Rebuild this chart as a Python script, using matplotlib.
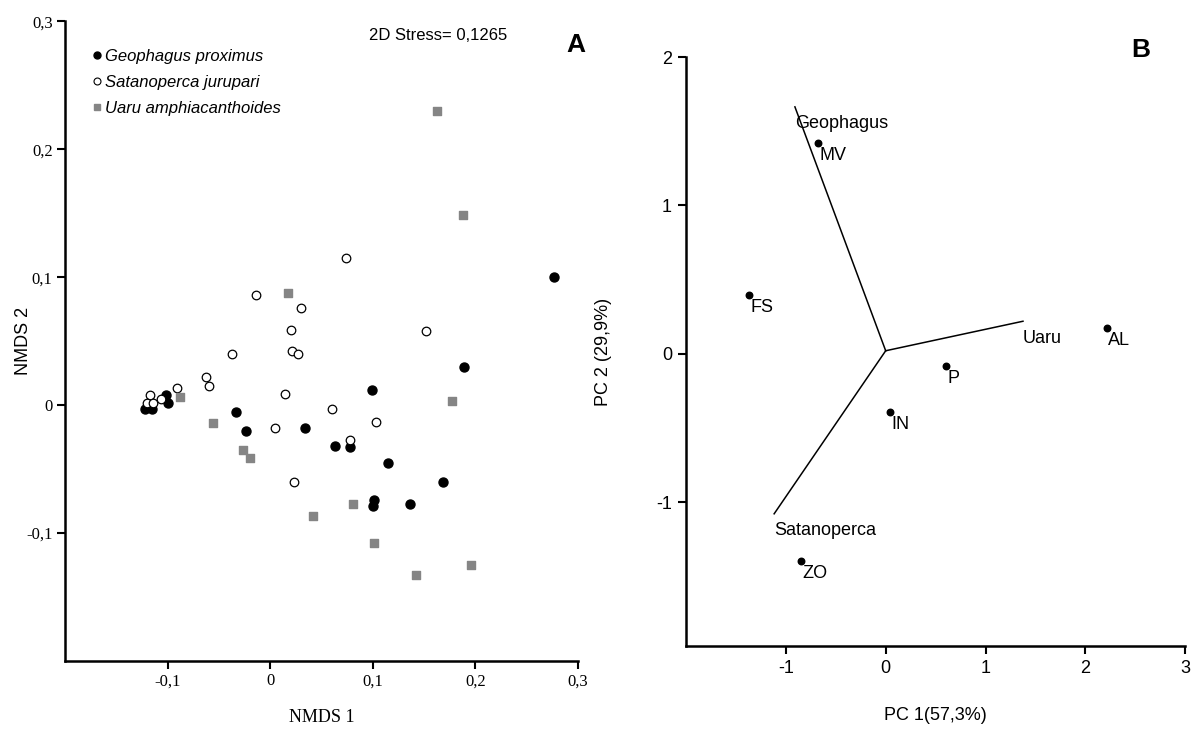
import matplotlib
matplotlib.use("Agg")
import matplotlib.pyplot as plt
from matplotlib.lines import Line2D

plt.rcParams["axes.unicode_minus"] = False
SANS = "Liberation Sans"
SERIF = "Liberation Serif"

# ---------------- dados painel A (NMDS) ----------------
geo_x = [0.277, 0.189, 0.099, -0.122, -0.115, -0.102, -0.100, -0.033, -0.024, 0.034,
         0.063, 0.078, 0.115, 0.168, 0.101, 0.100, 0.136]
geo_y = [0.100, 0.030, 0.012, -0.003, -0.003, 0.008, 0.002, -0.005, -0.020, -0.018,
         -0.032, -0.033, -0.045, -0.060, -0.074, -0.079, -0.077]

sat_x = [0.074, -0.014, 0.030, 0.020, 0.152, -0.037, 0.021, 0.027, -0.063, -0.060, -0.091,
         0.014, -0.117, -0.106, -0.120, -0.114, 0.060, 0.103, 0.005, 0.078, 0.023]
sat_y = [0.115, 0.086, 0.076, 0.059, 0.058, 0.040, 0.042, 0.040, 0.022, 0.015, 0.013,
         0.009, 0.008, 0.005, 0.002, 0.002, -0.003, -0.013, -0.018, -0.027, -0.060]

uaru_x = [0.163, 0.188, 0.017, -0.088, 0.177, -0.056, -0.027, -0.020, 0.081, 0.042,
          0.101, 0.142, 0.196]
uaru_y = [0.230, 0.149, 0.088, 0.006, 0.003, -0.014, -0.035, -0.041, -0.077, -0.087,
          -0.108, -0.133, -0.125]

nmds_ticks = [-0.1, 0, 0.1, 0.2, 0.3]
nmds_ticklabels = ["-0,1", "0", "0,1", "0,2", "0,3"]

# ---------------- dados painel B (PCA) ----------------
locais = ["MV", "FS", "AL", "P", "IN", "ZO"]
pc1 = [-0.674, -1.371, 2.216, 0.606, 0.042, -0.848]
pc2 = [1.423, 0.395, 0.176, -0.082, -0.393, -1.395]

especies = ["Geophagus", "Uaru", "Satanoperca"]
vet_x = [-0.909, 1.375, -1.117]
vet_y = [1.664, 0.219, -1.079]
origem = (0.0, 0.02)

pc_ticks = [-1, 0, 1, 2, 3]
pc_yticks = [-1, 0, 1, 2]

fig = plt.figure(figsize=(11.93, 7.31), dpi=100)

# ======== Painel A ========
ax1 = fig.add_axes([0.0545, 0.0958, 0.430, 0.875])
ax1.scatter(geo_x, geo_y, s=42, c="black", marker="o", zorder=3)
ax1.scatter(sat_x, sat_y, s=38, facecolors="white", edgecolors="black",
            linewidths=0.9, marker="o", zorder=3)
ax1.scatter(uaru_x, uaru_y, s=30, c="#858585", marker="s", zorder=3)

ax1.set_xlim(-0.2, 0.3)
ax1.set_ylim(-0.2, 0.3)
ax1.set_xticks(nmds_ticks)
ax1.set_xticklabels(nmds_ticklabels, family=SERIF, fontsize=12)
ax1.set_yticks(nmds_ticks)
ax1.set_yticklabels(nmds_ticklabels, family=SERIF, fontsize=12)
ax1.set_xlabel("NMDS 1", family=SERIF, fontsize=13, labelpad=14)
ax1.set_ylabel("NMDS 2", family=SANS, fontsize=13)
ax1.yaxis.set_label_coords(-0.064, 0.5)
for lado in ["top", "right"]:
    ax1.spines[lado].set_visible(False)
for lado in ["left", "bottom"]:
    ax1.spines[lado].set_linewidth(1.8)
ax1.tick_params(width=1.5, length=6, pad=3)

leg_handles = [
    Line2D([], [], marker="o", ls="", color="black", markersize=5),
    Line2D([], [], marker="o", ls="", markerfacecolor="white", markeredgecolor="black",
           markersize=5, markeredgewidth=0.8),
    Line2D([], [], marker="s", ls="", color="#858585", markersize=5),
]
leg_labels = ["Geophagus proximus", "Satanoperca jurupari", "Uaru amphiacanthoides"]
ax1.legend(leg_handles, leg_labels, loc="upper left", bbox_to_anchor=(0.02, 0.98),
           frameon=False, handletextpad=0.1, handlelength=0.8, labelspacing=0.65,
           prop={"family": SANS, "style": "italic", "size": 12})

ax1.text(0.727, 0.989, "2D Stress= 0,1265", transform=ax1.transAxes, ha="center",
         va="top", family=SANS, fontsize=12)
ax1.text(0.995, 0.981, "A", transform=ax1.transAxes, ha="center", va="top",
         family=SANS, fontsize=19, fontweight="bold")

# ======== Painel B ========
ax2 = fig.add_axes([0.575, 0.1163, 0.4185, 0.8057])
for nome, vx, vy in zip(especies, vet_x, vet_y):
    ax2.plot([origem[0], vx], [origem[1], vy], color="black", lw=1.1)
    ax2.annotate(nome, (vx, vy), xytext=(0, -6), textcoords="offset points",
                 ha="left", va="top", family=SANS, fontsize=13)

ax2.scatter(pc1, pc2, s=22, c="black", zorder=3)
for nome, px, py in zip(locais, pc1, pc2):
    ax2.annotate(nome, (px, py), xytext=(1, -3), textcoords="offset points",
                 ha="left", va="top", family=SANS, fontsize=13)

ax2.set_xlim(-2, 3)
ax2.set_ylim(-1.97, 2)
ax2.set_xticks(pc_ticks)
ax2.set_yticks(pc_yticks)
for t in ax2.get_xticklabels() + ax2.get_yticklabels():
    t.set_family(SANS)
    t.set_fontsize(13)
ax2.set_xlabel("PC 1(57,3%)", family=SANS, fontsize=13, labelpad=22)
ax2.set_ylabel("PC 2 (29,9%)", family=SANS, fontsize=13)
ax2.yaxis.set_label_coords(-0.148, 0.5)
for lado in ["top", "right"]:
    ax2.spines[lado].set_visible(False)
for lado in ["left", "bottom"]:
    ax2.spines[lado].set_linewidth(1.8)
ax2.tick_params(width=1.5, length=6, pad=4)

ax2.text(0.91, 1.032, "B", transform=ax2.transAxes, ha="center", va="top",
         family=SANS, fontsize=19, fontweight="bold")

fig.savefig("out.png", dpi=100)
